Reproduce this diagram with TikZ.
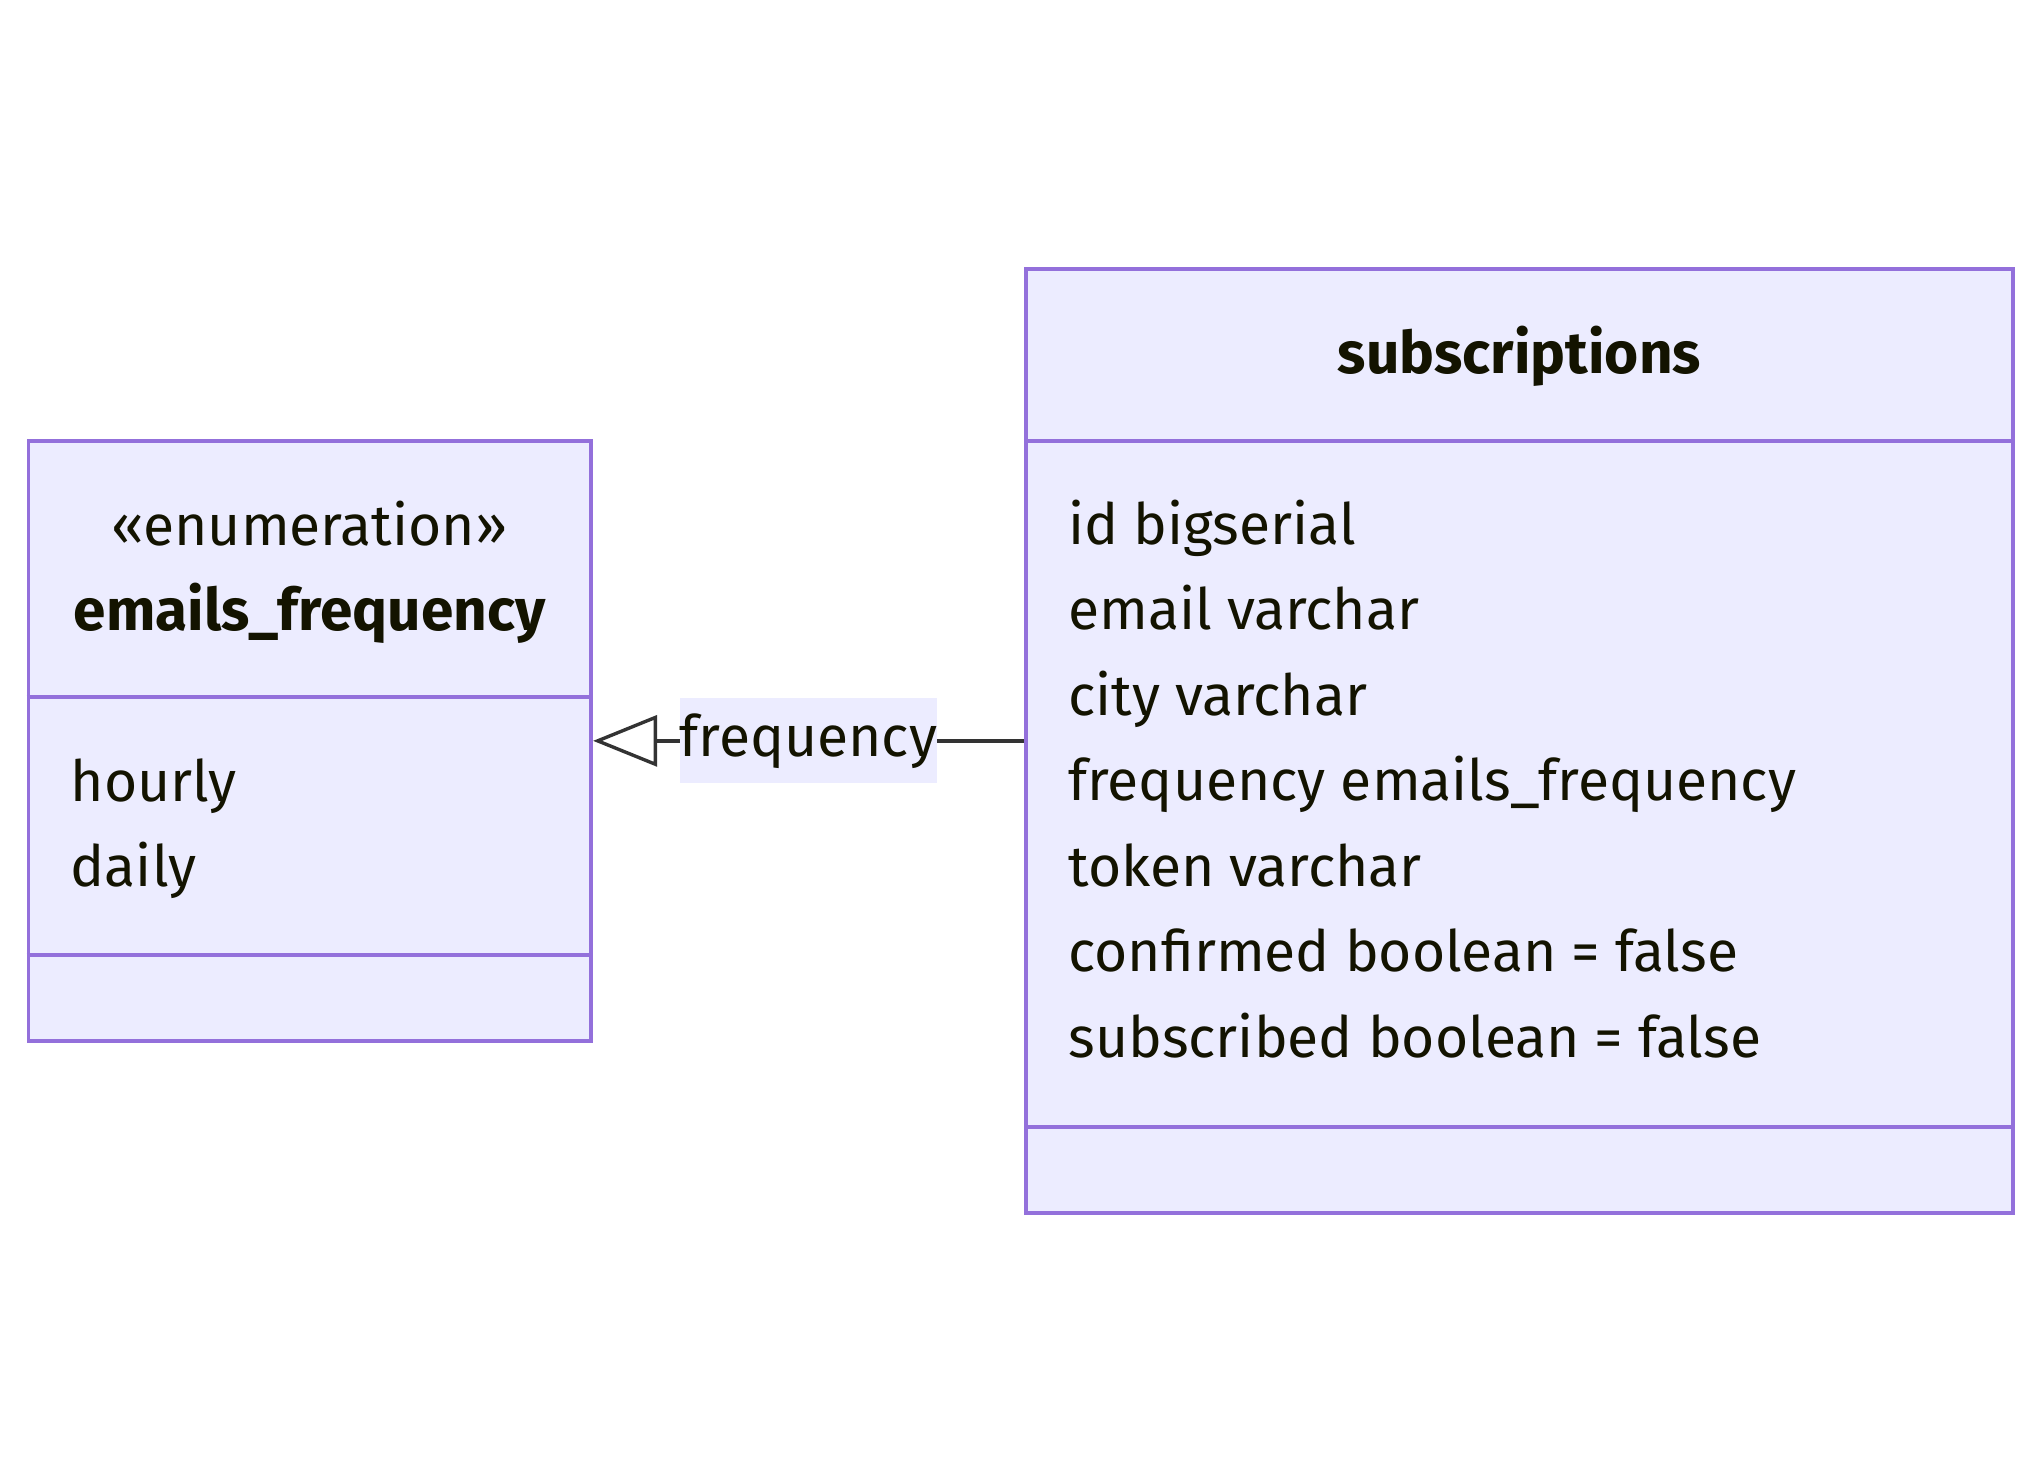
\documentclass[tikz,border=0pt]{standalone}
\usepackage{fontspec}
\setmainfont{Fira Sans}
\usetikzlibrary{arrows.meta}
\definecolor{boxfill}{HTML}{ECECFF}
\definecolor{boxline}{HTML}{9370DB}
\definecolor{txt}{HTML}{131300}
\definecolor{edgecol}{HTML}{333333}
\newcommand\diafs{\fontsize{57}{68}\selectfont}
\newcommand\diabf{\fontsize{58.5}{68}\selectfont\bfseries}
\tikzset{
  classbox/.style={draw=boxline, fill=boxfill, line width=3.8pt, inner sep=0pt, rectangle},
  divider/.style={draw=boxline, line width=3.8pt},
  member/.style={anchor=base west, inner sep=0pt, text=txt, font=\diafs},
  classtitle/.style={anchor=base, inner sep=0pt, text=txt, font=\diafs},
  edgelabel/.style={fill=boxfill, inner sep=0pt, minimum width=256.7pt, minimum height=85pt, text=txt, font=\diafs},
  relation/.style={draw=edgecol, line width=3.4pt, -{Triangle[open, length=64pt, width=51pt]}, shorten >=0.5pt}
}
\begin{document}
\begin{tikzpicture}[x=1pt,y=-1pt]
\useasboundingbox (0,0) rectangle (2042,1482);
% class boxes
\node[classbox, minimum width=562.2pt, minimum height=600.3pt] (enum) at (309.6,740.85) {};
\node[classbox, minimum width=987pt, minimum height=943.7pt] (sub) at (1519.5,740.85) {};
% dividers
\draw[divider] (enum.west |- 0,697) coordinate (e1a) -- (enum.east |- 0,697) coordinate (e1b);
\draw[divider] (enum.west |- 0,955) coordinate (e2a) -- (enum.east |- 0,955) coordinate (e2b);
\draw[divider] (sub.west |- 0,440.7) coordinate (s1a) -- (sub.east |- 0,440.7) coordinate (s1b);
\draw[divider] (sub.west |- 0,1126.7) coordinate (s2a) -- (sub.east |- 0,1126.7) coordinate (s2b);
% titles
\node[classtitle] (enumst) at (309.6,545) {«enumeration»};
\node[classtitle, font=\diabf] (enumname) at (309.6,630) {emails\_frequency};
\node[classtitle, font=\diabf] (subname) at (1519.5,373.3) {subscriptions};
% enum members
\node[member] (m1) at (70.7,801.7) {hourly};
\node[member] (m2) at (70.7,886.7) {daily};
% sub members
\node[member] (a1) at (1068.2,544) {id bigserial};
\node[member] (a2) at (1068.2,629.5) {email varchar};
\node[member] (a3) at (1068.2,715) {city varchar};
\node[member] (a4) at (1068.2,800.5) {frequency emails\_frequency};
\node[member] (a5) at (1068.2,886) {token varchar};
\node[member] (a6) at (1068.2,971.5) {confirmed boolean = false};
\node[member] (a7) at (1068.2,1057) {subscribed boolean = false};
% relation
\draw[relation] (sub.west) -- (enum.east);
\node[edgelabel] (lab) at (808.3,740.8) {frequency};
\end{tikzpicture}
\end{document}
